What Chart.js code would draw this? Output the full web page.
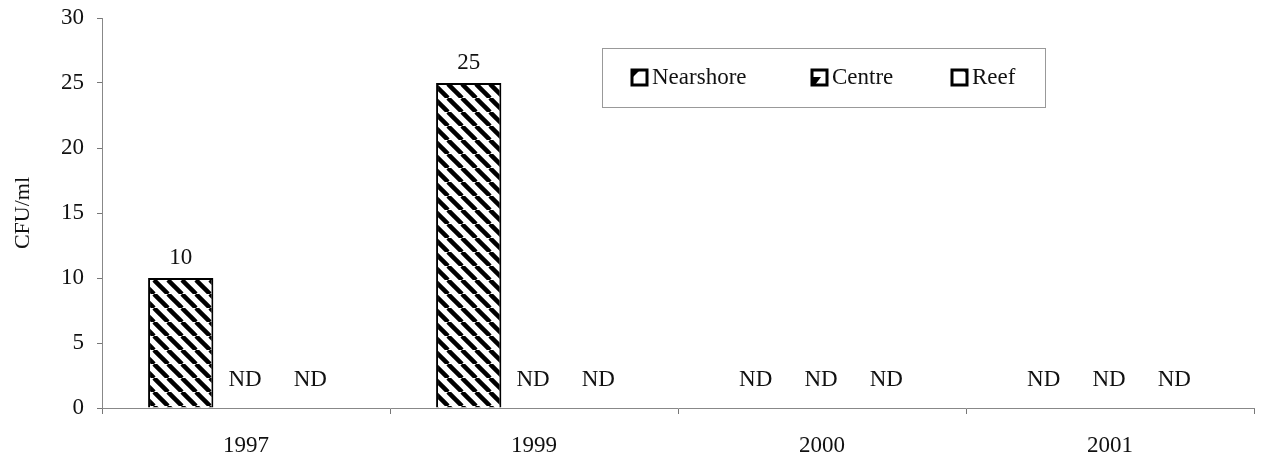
<!DOCTYPE html>
<html>
<head>
<meta charset="utf-8">
<script src="https://cdn.jsdelivr.net/npm/chart.js@4.4.4/dist/chart.umd.min.js"></script>
<style>
  html, body { margin: 0; padding: 0; background: #fff; }
  #wrap { width: 1262px; height: 468px; }
</style>
</head>
<body>
<div id="wrap"><canvas id="c" width="1262" height="468"></canvas></div>
<script>
// data (0 = not detected, shown as ND)
const years = ['1997', '1999', '2000', '2001'];
const nearshore = [10, 25, 0, 0];
const centre = [0, 0, 0, 0];
const reef = [0, 0, 0, 0];
const seriesNames = ['Nearshore', 'Centre', 'Reef'];
const yTicks = [0, 5, 10, 15, 20, 25, 30];

const FONT = '"Liberation Serif", "Times New Roman", serif';

// diagonal hatch like the printed chart
function hatch(dir) {
  const s = 14;
  const c = document.createElement('canvas');
  c.width = s; c.height = s;
  const g = c.getContext('2d');
  g.fillStyle = '#fff';
  g.fillRect(0, 0, s, s);
  g.strokeStyle = '#000';
  g.lineWidth = 4.5;
  for (const o of [-s, 0, s]) {
    g.beginPath();
    if (dir > 0) { g.moveTo(o, 0); g.lineTo(o + s, s); }
    else { g.moveTo(o, s); g.lineTo(o + s, 0); }
    g.stroke();
  }
  return g.createPattern(c, 'repeat');
}

const fills = [hatch(1), hatch(-1), '#fff'];

// labels over bars: value or "ND"
const barLabels = {
  id: 'barLabels',
  afterDatasetsDraw(chart) {
    const ctx = chart.ctx;
    ctx.save();
    ctx.font = '23px ' + FONT;
    ctx.fillStyle = '#111';
    ctx.textAlign = 'center';
    ctx.textBaseline = 'middle';
    chart.data.datasets.forEach((ds, i) => {
      chart.getDatasetMeta(i).data.forEach((bar, j) => {
        const v = ds.data[j];
        if (v === 0) ctx.fillText('ND', bar.x - 1, bar.base - 28);
        else ctx.fillText(String(v), bar.x, bar.y - 20);
      });
    });
    ctx.restore();
  }
};

// boxed legend inside plot
const boxLegend = {
  id: 'boxLegend',
  afterDraw(chart) {
    const ctx = chart.ctx;
    ctx.save();
    ctx.strokeStyle = '#999';
    ctx.lineWidth = 1;
    ctx.strokeRect(602.5, 48.5, 443, 59);
    ctx.font = '23px ' + FONT;
    ctx.textBaseline = 'middle';
    const xs = [632, 812, 952];
    chart.data.datasets.forEach((ds, i) => {
      const x = xs[i], y = 70, s = 15;
      ctx.fillStyle = '#fff';
      ctx.fillRect(x, y, s, s);
      ctx.fillStyle = '#000';
      ctx.beginPath();
      if (i === 0) { ctx.moveTo(x, y); ctx.lineTo(x + 8, y); ctx.lineTo(x, y + 8); }
      if (i === 1) { ctx.moveTo(x, y + s); ctx.lineTo(x, y + 7); ctx.lineTo(x + 9, y + 7); ctx.lineTo(x + 3, y + s); }
      if (i === 2) { ctx.moveTo(x + s, y); ctx.lineTo(x + s - 4, y); ctx.lineTo(x + s, y + 4); }
      ctx.closePath();
      ctx.fill();
      ctx.lineWidth = 3;
      ctx.strokeStyle = '#000';
      ctx.strokeRect(x, y, s, s);
      ctx.fillStyle = '#111';
      ctx.fillText(ds.label, x + 20, y + 8);
    });
    ctx.restore();
  }
};

new Chart(document.getElementById('c'), {
  type: 'bar',
  data: {
    labels: years,
    datasets: [
      { label: seriesNames[0], data: nearshore, backgroundColor: fills[0], borderColor: '#000', borderWidth: 2 },
      { label: seriesNames[1], data: centre, backgroundColor: fills[1], borderColor: '#000', borderWidth: 0 },
      { label: seriesNames[2], data: reef, backgroundColor: fills[2], borderColor: '#000', borderWidth: 0 }
    ]
  },
  options: {
    responsive: false,
    animation: false,
    layout: { padding: { top: 18, right: 8, left: 6, bottom: 0 } },
    datasets: { bar: { categoryPercentage: 0.68, barPercentage: 1 } },
    plugins: { legend: { display: false }, tooltip: { enabled: false } },
    scales: {
      x: {
        grid: { display: true, drawOnChartArea: false, offset: true, tickLength: 6, color: '#777' },
        border: { color: '#888', width: 1 },
        ticks: { font: { family: FONT, size: 23 }, color: '#111', padding: 18 },
        afterFit(s) { s.height = 60; }
      },
      y: {
        min: 0, max: 30,
        afterBuildTicks(s) { s.ticks = yTicks.map(v => ({ value: v })); },
        grid: { display: true, drawOnChartArea: false, tickLength: 5, color: '#777' },
        border: { color: '#888', width: 1 },
        ticks: { font: { family: FONT, size: 23 }, color: '#111', padding: 13 },
        title: { display: true, text: 'CFU/ml', font: { family: FONT, size: 22 }, color: '#111', padding: 4 },
        afterFit(s) { s.width = 96; s.paddingTop = 0; s.paddingBottom = 0; }
      }
    }
  },
  plugins: [barLabels, boxLegend]
});
</script>
</body>
</html>
